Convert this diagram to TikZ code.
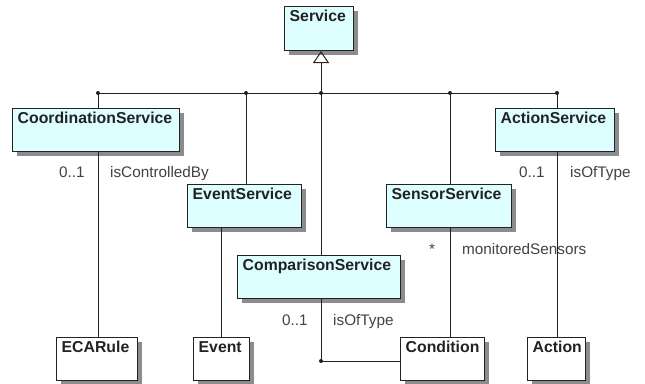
\documentclass[tikz,border=0pt]{standalone}
\usepackage{fontspec}
\setmainfont{Liberation Sans}
\usetikzlibrary{arrows.meta,shadows}
\definecolor{clsfill}{HTML}{DDFFFF}
\definecolor{ink}{HTML}{222222}
\tikzset{
  classbox/.style={draw=ink, line width=1bp, rectangle, inner sep=0pt,
    drop shadow={shadow xshift=4bp, shadow yshift=-4bp, fill=black!45, opacity=1}},
  classtitle/.style={inner sep=0pt, text=ink, font=\fontsize{15.8bp}{18bp}\selectfont\bfseries},
  lbl/.style={inner sep=0pt, text=ink!85, font=\fontsize{15.3bp}{18bp}\selectfont},
  wire/.style={draw=ink, line width=1bp},
  junction/.style={circle, fill=ink, inner sep=0pt, minimum size=4bp},
}
\newcommand\umlclass[7]{%
  \node[classbox, fill=#6, minimum width=#4bp, minimum height=#5bp, anchor=north west] (#1) at (#2,#3) {};
  \node[classtitle, anchor=base west] (#1-t) at ([xshift=5.5bp,yshift=-15bp]#1.north west) {#7};
}
\begin{document}
\begin{tikzpicture}[x=1bp,y=-1bp]
\useasboundingbox (0,0) rectangle (645,383);
\fill[white] (0,0) rectangle (645,383);
% classes
\umlclass{svc}{284}{6}{69}{44}{clsfill}{Service}
\umlclass{coord}{12}{108}{167}{43}{clsfill}{CoordinationService}
\umlclass{acts}{495}{108}{119}{43}{clsfill}{ActionService}
\umlclass{evs}{187}{184}{114}{43}{clsfill}{EventService}
\umlclass{sns}{386}{184}{125}{43}{clsfill}{SensorService}
\umlclass{cmp}{237}{255}{163}{43}{clsfill}{ComparisonService}
\umlclass{ecar}{56}{337}{81}{43}{white}{ECARule}
\umlclass{evt}{193}{337}{56}{43}{white}{Event}
\umlclass{cond}{400}{337}{84}{43}{white}{Condition}
\umlclass{act}{527}{337}{58}{43}{white}{Action}
% bus coordinates
\coordinate (b1) at (98,93);
\coordinate (b2) at (246,93);
\coordinate (hub) at (321,93);
\coordinate (b4) at (450,93);
\coordinate (b5) at (557,93);
\coordinate (evx) at (221,0);
\coordinate (corner) at (321,361);
% generalization
\draw[wire, -{Triangle[open, width=16bp, length=12bp, line width=1bp]}] (hub) -- (svc.south -| hub);
\draw[wire] (b1) -- (b5);
\draw[wire] (b1) -- (coord.north -| b1);
\draw[wire] (b2) -- (evs.north -| b2);
\draw[wire] (hub) -- (cmp.north -| hub);
\draw[wire] (b4) -- (sns.north -| b4);
\draw[wire] (b5) -- (acts.north -| b5);
\foreach \p in {b1,b2,hub,b4,b5} \node[junction] at (\p) {};
% associations
\draw[wire] (coord.south -| b1) -- (ecar.north -| b1);
\draw[wire] (evs.south -| evx) -- (evt.north -| evx);
\draw[wire] (sns.south -| b4) -- (cond.north -| b4);
\draw[wire] (acts.south -| b5) -- (act.north -| b5);
\draw[wire] (cmp.south -| hub) -- (corner) -- (cond.west |- corner);
\node[junction] (cj) at (corner) {};
% labels
\node[lbl, anchor=base west] (m1) at (59,177) {0..1};
\node[lbl, anchor=base west] (r1) at (110,177) {isControlledBy};
\node[lbl, anchor=base west] (m2) at (519,177) {0..1};
\node[lbl, anchor=base west] (r2) at (570,177) {isOfType};
\node[lbl, anchor=base west] (m3) at (429,254) {*};
\node[lbl, anchor=base west] (r3) at (462,254) {monitoredSensors};
\node[lbl, anchor=base west] (m4) at (282,325) {0..1};
\node[lbl, anchor=base west] (r4) at (333,325) {isOfType};
\end{tikzpicture}
\end{document}
